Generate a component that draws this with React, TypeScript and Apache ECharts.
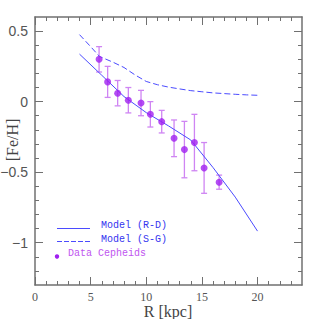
import React, { useEffect, useRef } from "react";
import * as echarts from "echarts";

// Cepheid data
const cephR = [5.76, 6.53, 7.43, 8.39, 9.53, 10.37, 11.39, 12.5, 13.43, 14.33, 15.2, 16.55];
const cephFeH = [0.3, 0.14, 0.06, 0.01, -0.01, -0.09, -0.142, -0.26, -0.34, -0.29, -0.47, -0.571];
const cephErr = [0.09, 0.11, 0.09, 0.09, 0.09, 0.09, 0.08, 0.13, 0.2, 0.2, 0.18, 0.05];

// Model (R-D)
const modelRDR = [4, 6, 8, 10, 12, 14, 16, 18, 20];
const modelRDFeH = [0.337, 0.187, 0.036, -0.078, -0.172, -0.272, -0.467, -0.677, -0.918];

// Model (S-G)
const modelSGR = [4, 5, 5.8, 7, 8, 9, 10, 11, 12, 13, 14, 15, 16, 17, 18, 19, 20];
const modelSGFeH = [0.475, 0.39, 0.32, 0.28, 0.242, 0.189, 0.143, 0.12, 0.103, 0.09, 0.078, 0.07, 0.062, 0.057, 0.052, 0.048, 0.045];

// ticks
const xMajorTicks = [0, 5, 10, 15, 20];
const xMinorTicks = [1, 2, 3, 4, 6, 7, 8, 9, 11, 12, 13, 14, 16, 17, 18, 19, 21, 22, 23];
const yMajorTicks = [-1, -0.5, 0, 0.5];
const yMinorTicks = [-1.2, -1.1, -0.9, -0.8, -0.7, -0.6, -0.4, -0.3, -0.2, -0.1, 0.1, 0.2, 0.3, 0.4];

const X_MIN = 0, X_MAX = 24, Y_MIN = -1.3, Y_MAX = 0.6;
const FRAME = "#707070";
const LINE_BLUE = "#4b4bff";
const TEXT_BLUE = "#3434f0";
const DOT = "#a020f0";
const ERR = "#cf85f3";
const LEG_PURPLE = "#c055f0";

export default function App() {
  const ref = useRef<HTMLDivElement>(null);
  useEffect(() => {
    if (!ref.current) return;
    const chart = echarts.init(ref.current, undefined, { renderer: "svg" });

    const xAxisBase = (position: "bottom" | "top", ticks: number[], len: number, major: boolean) => ({
      type: "value",
      gridIndex: 0,
      position,
      min: X_MIN,
      max: X_MAX,
      axisLine: { show: major, onZero: false, lineStyle: { color: FRAME, width: 1.5 } },
      axisTick: { show: true, inside: true, length: len, customValues: ticks, lineStyle: { color: FRAME, width: 1 } },
      axisLabel: major && position === "bottom"
        ? { show: true, customValues: ticks, margin: 6, fontFamily: "Liberation Serif", fontSize: 12, color: "#555" }
        : { show: false },
      splitLine: { show: false },
    });
    const fmtY = (v: number) => (v < 0 ? "\u2212" + Math.abs(v) : String(v));
    const yAxisBase = (position: "left" | "right", ticks: number[], len: number, major: boolean) => ({
      type: "value",
      gridIndex: 0,
      position,
      min: Y_MIN,
      max: Y_MAX,
      axisLine: { show: major, onZero: false, lineStyle: { color: FRAME, width: 1.5 } },
      axisTick: { show: true, inside: true, length: len, customValues: ticks, lineStyle: { color: FRAME, width: 1 } },
      axisLabel: major && position === "left"
        ? { show: true, customValues: ticks, margin: 7, formatter: fmtY, fontFamily: "Liberation Sans", fontSize: 14, color: "#555" }
        : { show: false },
      splitLine: { show: false },
    });

    chart.setOption({
      animation: false,
      backgroundColor: "#fff",
      grid: { left: 35, right: 17, top: 17, bottom: 34, containLabel: false, outerBoundsMode: "none" },
      xAxis: [
        xAxisBase("bottom", xMajorTicks, 8, true),
        xAxisBase("bottom", xMinorTicks, 4, false),
        xAxisBase("top", xMajorTicks, 8, true),
        xAxisBase("top", xMinorTicks, 4, false),
      ],
      yAxis: [
        yAxisBase("left", yMajorTicks, 8, true),
        yAxisBase("left", yMinorTicks, 4, false),
        yAxisBase("right", yMajorTicks, 8, true),
        yAxisBase("right", yMinorTicks, 4, false),
      ],
      series: [
        {
          type: "line",
          xAxisIndex: 0,
          yAxisIndex: 0,
          data: modelRDR.map((r, i) => [r, modelRDFeH[i]]),
          showSymbol: false,
          symbol: "none",
          lineStyle: { color: LINE_BLUE, width: 1 },
          z: 3,
        },
        {
          type: "line",
          xAxisIndex: 0,
          yAxisIndex: 0,
          data: modelSGR.map((r, i) => [r, modelSGFeH[i]]),
          showSymbol: false,
          symbol: "none",
          lineStyle: { color: LINE_BLUE, width: 1, type: [6, 3] },
          z: 3,
        },
        {
          type: "custom",
          xAxisIndex: 0,
          yAxisIndex: 0,
          data: cephR.map((r, i) => [r, cephFeH[i], cephErr[i]]),
          renderItem: (params: any, api: any) => {
            const x = api.value(0), y = api.value(1), e = api.value(2);
            const top = api.coord([x, y + e]);
            const bot = api.coord([x, y - e]);
            const hw = 3;
            const style = { stroke: ERR, lineWidth: 1.3, fill: "none" };
            return {
              type: "group",
              children: [
                { type: "line", shape: { x1: top[0], y1: top[1], x2: bot[0], y2: bot[1] }, style },
                { type: "line", shape: { x1: top[0] - hw, y1: top[1], x2: top[0] + hw, y2: top[1] }, style },
                { type: "line", shape: { x1: bot[0] - hw, y1: bot[1], x2: bot[0] + hw, y2: bot[1] }, style },
              ],
            };
          },
          z: 2,
        },
        {
          type: "scatter",
          xAxisIndex: 0,
          yAxisIndex: 0,
          data: cephR.map((r, i) => [r, cephFeH[i]]),
          symbol: "circle",
          symbolSize: 7,
          itemStyle: { color: DOT },
          z: 4,
        },
      ],
      graphic: [
        {
          type: "text",
          x: 168,
          y: 311,
          style: { text: "R [kpc]", font: "16px 'Liberation Serif'", fill: "#444", align: "center", verticalAlign: "middle" },
        },
        {
          type: "text",
          x: 12,
          y: 140,
          rotation: Math.PI / 2,
          style: { text: "[Fe/H]", font: "16px 'Liberation Serif'", fill: "#444", align: "center", verticalAlign: "middle" },
        },
        { type: "line", shape: { x1: 57, y1: 228.5, x2: 90, y2: 228.5 }, style: { stroke: LINE_BLUE, lineWidth: 1 } },
        { type: "line", shape: { x1: 57, y1: 241.5, x2: 90, y2: 241.5 }, style: { stroke: LINE_BLUE, lineWidth: 1, lineDash: [5, 2] } },
        { type: "circle", shape: { cx: 57, cy: 256.5, r: 2.2 }, style: { fill: DOT } },
        {
          type: "text", x: 101, y: 225.5,
          style: { text: "Model (R-D)", font: "10px 'Liberation Mono'", fill: TEXT_BLUE, align: "left", verticalAlign: "middle" },
        },
        {
          type: "text", x: 101, y: 239.5,
          style: { text: "Model (S-G)", font: "10px 'Liberation Mono'", fill: TEXT_BLUE, align: "left", verticalAlign: "middle" },
        },
        {
          type: "text", x: 68, y: 253.5,
          style: { text: "Data Cepheids", font: "10px 'Liberation Mono'", fill: LEG_PURPLE, align: "left", verticalAlign: "middle" },
        },
      ],
    });
    return () => chart.dispose();
  }, []);
  return <div ref={ref} style={{ width: 319, height: 319, position: "absolute", left: 0, top: 0 }} />;
}
